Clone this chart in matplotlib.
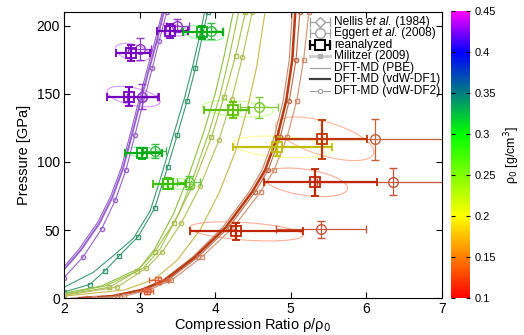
import numpy as np
import matplotlib.pyplot as plt
from matplotlib.colors import LinearSegmentedColormap, Normalize, to_rgb
from matplotlib.cm import ScalarMappable

plt.rcParams['font.family'] = ['Liberation Sans', 'DejaVu Sans']

# --- Hugoniot curves (compression ratio, pressure in GPa) ---
# rho0 ~ 0.43 g/cc
pur_pbe_x = [2.00, 2.20, 2.45, 2.62, 2.76, 2.88, 3.00, 3.11, 3.21, 3.30]
pur_pbe_p = [23, 36, 56, 75, 96, 121, 147, 170, 190, 210]
pur_df1_x = [2.00, 2.22, 2.47, 2.64, 2.78, 2.90, 3.02, 3.13, 3.23, 3.32]
pur_df1_p = [21, 35, 55, 74, 95, 120, 146, 169, 189, 210]
pur_df2_x = [2.00, 2.25, 2.50, 2.68, 2.82, 2.94, 3.06, 3.17, 3.26, 3.36]
pur_df2_p = [15, 30, 51, 72, 94, 120, 146, 169, 189, 210]

# rho0 ~ 0.33 g/cc
teal_pbe_x = [2.00, 2.39, 2.65, 2.92, 3.14, 3.30, 3.46, 3.60, 3.71, 3.81, 3.86]
teal_pbe_p = [8, 19, 31, 44, 64, 92, 122, 148, 172, 196, 210]
teal_df2_x = [2.00, 2.34, 2.54, 2.73, 2.98, 3.20, 3.37, 3.50, 3.63, 3.74, 3.83, 3.90]
teal_df2_p = [4.5, 10, 20, 31, 45, 66, 96, 120, 145, 169, 192, 210]

# rho0 ~ 0.2 - 0.26 g/cc
yg1_x = [2.00, 2.50, 3.00, 3.20, 3.45, 3.65, 3.85, 4.00, 4.12, 4.24]
yg1_p = [3.6, 9, 22, 36, 62, 90, 122, 150, 178, 210]
yg2_x = [2.00, 2.55, 3.05, 3.27, 3.52, 3.72, 3.92, 4.07, 4.19, 4.31]
yg2_p = [3, 9, 22, 36, 62, 90, 122, 150, 178, 210]
yg3_x = [2.00, 2.60, 2.97, 3.20, 3.45, 3.70, 3.95, 4.12, 4.27, 4.40]
yg3_p = [2.5, 8, 20, 34, 55, 82, 118, 148, 178, 210]
yg4_x = [2.00, 2.70, 3.09, 3.30, 3.55, 3.80, 4.05, 4.22, 4.36, 4.49]
yg4_p = [2, 8, 22, 34, 55, 82, 116, 146, 177, 210]
yg5_x = [2.00, 2.80, 3.20, 3.50, 3.80, 4.05, 4.27, 4.42, 4.55, 4.66]
yg5_p = [1.5, 6, 14, 28, 50, 77, 108, 138, 170, 210]

# rho0 ~ 0.12 g/cc
br_pbe_x = [2.10, 2.60, 3.00, 3.30, 3.70, 4.10, 4.45, 4.62, 4.78, 4.90, 4.98, 5.02]
br_pbe_p = [0, 1.5, 6, 13, 30, 52, 78, 94, 118, 145, 175, 210]
br_df1_x = [2.20, 2.65, 3.03, 3.33, 3.73, 4.14, 4.49, 4.66, 4.82, 4.94, 5.02, 5.06]
br_df1_p = [0, 1.5, 6, 13, 30, 52, 78, 94, 118, 145, 175, 210]
br_df2_x = [2.30, 2.70, 3.07, 3.37, 3.77, 4.18, 4.53, 4.70, 4.86, 4.98, 5.07, 5.12]
br_df2_p = [0, 1.5, 6, 13, 30, 52, 78, 94, 118, 145, 175, 210]
br_mil_x = [2.40, 2.80, 3.12, 3.42, 3.82, 4.24, 4.60, 4.78, 4.95, 5.08, 5.17, 5.24]
br_mil_p = [0, 1.5, 6, 13, 30, 52, 78, 94, 118, 145, 175, 210]

# --- reanalyzed shock data ---
re_x = [2.86, 2.885, 3.40, 3.03, 3.82, 4.24, 3.38, 4.82, 5.41, 5.32, 4.27]
re_p = [148, 180, 196, 106.5, 195, 138, 84, 111, 116.5, 85, 49]
re_xlo = [0.29, 0.20, 0.17, 0.22, 0.24, 0.39, 0.20, 0.59, 0.60, 0.68, 0.60]
re_xhi = [0.40, 0.25, 0.24, 0.27, 0.29, 0.21, 0.24, 0.73, 0.60, 0.82, 0.89]
re_perr = [7, 6, 5, 4, 5, 6, 4, 7, 14, 10, 6]
re_rho = [0.43, 0.43, 0.43, 0.31, 0.31, 0.25, 0.27, 0.20, 0.13, 0.12, 0.12]

# low-pressure points
lo_x = [3.25, 3.10]
lo_p = [13, 5]
lo_xerr = [0.12, 0.08]
lo_perr = [2.5, 2]

# --- Nellis / Eggert data ---
ne_x = [3.03, 3.00, 3.50, 3.20, 3.95, 4.58, 3.65, 6.12, 6.35, 5.40]
ne_p = [148, 183, 200, 108, 196, 140, 85, 116.5, 85.5, 50.5]
ne_xerr = [0.20, 0.15, 0.15, 0.15, 0.15, 0.25, 0.15, 1.30, 1.00, 0.60]
ne_perr = [9, 8, 5, 5, 6, 8, 5, 15, 10, 6]
ne_rho = [0.43, 0.43, 0.43, 0.31, 0.31, 0.25, 0.27, 0.13, 0.12, 0.12]

# --- uncertainty ellipses ---
el_x = [2.92, 2.91, 3.45, 3.06, 3.84, 4.30, 4.89, 5.45, 5.19, 4.41, 3.52]
el_p = [148, 180.5, 197, 107, 194.5, 139, 111, 117, 85, 49, 84]
el_a = [0.35, 0.23, 0.19, 0.25, 0.27, 0.47, 0.66, 0.65, 0.56, 0.75, 0.22]
el_b = [7.5, 6.5, 4.5, 4, 5.5, 6, 8, 16, 10.5, 7, 4]
el_c = [-0.5, -0.4, -0.4, -0.3, -0.4, -0.3, -0.3, -0.6, -0.4, -0.4, -0.3]
el_rho = [0.43, 0.43, 0.43, 0.31, 0.31, 0.25, 0.20, 0.13, 0.12, 0.12, 0.27]

rho_ticks = [0.1, 0.15, 0.2, 0.25, 0.3, 0.35, 0.4, 0.45]

# legend text: (plain, italic, plain) pieces
leg_labels = [('Nellis ', 'et al.', ' (1984)'),
              ('Eggert ', 'et al.', ' (2008)'),
              ('reanalyzed', '', ''),
              ('Militzer (2009)', '', ''),
              ('DFT-MD (PBE)', '', ''),
              ('DFT-MD (vdW-DF1)', '', ''),
              ('DFT-MD (vdW-DF2)', '', '')]

cmap = LinearSegmentedColormap.from_list(
    'rho0', [(0, 'red'), (0.2857, 'yellow'), (0.5714, 'lime'),
             (0.8571, 'blue'), (1, 'magenta')])
norm = Normalize(0.1, 0.45)


def mix(c, other, f):
    c = np.array(to_rgb(c))
    return tuple(c * (1 - f) + np.array(to_rgb(other)) * f)


fig = plt.figure(figsize=(5.24, 3.35), dpi=100)
ax = fig.add_axes([0.122, 0.110, 0.7215, 0.854])
cax = fig.add_axes([0.861, 0.110, 0.036, 0.857])

# ellipses
t = np.linspace(0, 2 * np.pi, 120)
for cx, cy, a, b, c, r in zip(el_x, el_p, el_a, el_b, el_c, el_rho):
    ex = cx + a * np.cos(t)
    ey = cy + b * (c * np.cos(t) + np.sqrt(1 - c * c) * np.sin(t))
    ax.plot(ex, ey, color=mix(cmap(norm(r)), 'white', 0.6), lw=0.8, zorder=1)

# curves
purple = '#9a62cc'
teal = '#3f9a72'
ax.plot(pur_pbe_x, pur_pbe_p, color=purple, lw=0.8, zorder=2)
ax.plot(pur_df1_x, pur_df1_p, color=purple, lw=1.4, zorder=2)
ax.plot(pur_df2_x, pur_df2_p, color=purple, lw=0.8, marker='o', ms=3, mfc='none', zorder=2)
ax.plot(teal_pbe_x, teal_pbe_p, color=teal, lw=0.8, zorder=2)
ax.plot(teal_df2_x, teal_df2_p, color=teal, lw=0.8, marker='s', ms=2.5, mfc='none', zorder=2)
ax.plot(yg1_x, yg1_p, color='#8cbf44', lw=0.8, zorder=2)
ax.plot(yg2_x, yg2_p, color='#9cc44c', lw=0.8, zorder=2)
ax.plot(yg3_x, yg3_p, color='#a8c050', lw=0.8, marker='s', ms=2.5, mfc='none', zorder=2)
ax.plot(yg4_x, yg4_p, color='#b4c060', lw=0.8, marker='o', ms=3, mfc='none', zorder=2)
ax.plot(yg5_x, yg5_p, color='#c8b850', lw=0.8, zorder=2)
ax.plot(br_pbe_x, br_pbe_p, color='#c8866a', lw=0.8, zorder=2)
ax.plot(br_df1_x, br_df1_p, color='#b83a10', lw=1.8, zorder=2)
ax.plot(br_df2_x, br_df2_p, color='#c06a4a', lw=0.8, marker='o', ms=3, mfc='none', zorder=2)
ax.plot(br_mil_x, br_mil_p, color='#d09070', lw=0.8, marker='s', ms=2.5, mfc='none', zorder=2)

# Nellis / Eggert points
for x, p, xe, pe, r in zip(ne_x, ne_p, ne_xerr, ne_perr, ne_rho):
    col = mix(cmap(norm(r)), '#808080', 0.45)
    ax.errorbar(x, p, xerr=xe, yerr=pe, fmt='o', ms=7, mfc='none', mec=col,
                color=col, lw=0.9, capsize=3, zorder=3)

# reanalyzed points
for x, p, xl, xh, pe, r in zip(re_x, re_p, re_xlo, re_xhi, re_perr, re_rho):
    col = mix(cmap(norm(r)), 'black', 0.25)
    ax.errorbar(x, p, xerr=[[xl], [xh]], yerr=pe, fmt='s', ms=7, mfc='none', mec=col,
                mew=1.3, color=col, lw=1.6, capsize=3, capthick=1.3, zorder=4)
ax.errorbar(lo_x, lo_p, xerr=lo_xerr, yerr=lo_perr, fmt='s', ms=4, mfc='none',
            color='#e0603a', lw=1.0, capsize=2, zorder=4)

# key, drawn by hand in axes coordinates (gnuplot-like compact rows)
gray = '#a0a0a0'
key_styles = [
    dict(color=gray, lw=0.9, cap=True, marker='D', ms=5.5, mew=1.0),
    dict(color=gray, lw=0.9, cap=True, marker='o', ms=7, mew=1.0),
    dict(color='black', lw=1.6, cap=True, marker='s', ms=7, mew=1.4),
    dict(color='#d0d0d0', lw=2.2, cap=False, marker='s', ms=2.5, mew=1.0),
    dict(color=gray, lw=0.8, cap=False, marker=None, ms=0, mew=1.0),
    dict(color='#404040', lw=1.6, cap=False, marker=None, ms=0, mew=1.0),
    dict(color=gray, lw=0.8, cap=False, marker='o', ms=3, mew=0.8),
]
hx0, hx1, tx = 0.650, 0.704, 0.714
ky0, kdy = 0.965, 0.0399
for i, (st, pieces) in enumerate(zip(key_styles, leg_labels)):
    ky = ky0 - i * kdy
    kw = dict(transform=ax.transAxes, clip_on=False, zorder=7)
    ax.plot([hx0, hx1], [ky, ky], color=st['color'], lw=st['lw'],
            marker='|' if st['cap'] else None, ms=7, mew=st['lw'], **kw)
    if st['marker']:
        mfc = '#b0b0b0' if st['marker'] == 's' and not st['cap'] else 'white'
        mec = '#b0b0b0' if st['marker'] == 's' and not st['cap'] else st['color']
        ax.plot([(hx0 + hx1) / 2], [ky], marker=st['marker'], ms=st['ms'],
                mfc=mfc, mec=mec, mew=st['mew'], lw=0, **kw)
    prev = ax.text(tx, ky, pieces[0], transform=ax.transAxes, fontsize=8.6,
                   va='center', ha='left', zorder=7)
    for j, piece in enumerate(pieces[1:]):
        if piece:
            prev = ax.annotate(piece, xy=(1, 0), xycoords=prev, va='bottom',
                               ha='left', fontsize=8.6, zorder=7,
                               style='italic' if j == 0 else 'normal')

ax.set_xlim(2, 7)
ax.set_ylim(0, 210)
ax.set_xticks([2, 3, 4, 5, 6, 7])
ax.set_yticks([0, 50, 100, 150, 200])
ax.tick_params(direction='in', top=True, right=True, labelsize=10, length=4, pad=3)
ax.set_xlabel('Compression Ratio ρ/ρ$_0$', fontsize=10.5, labelpad=0)
ax.set_ylabel('Pressure [GPa]', fontsize=10.5, labelpad=4)

cb = fig.colorbar(ScalarMappable(norm=norm, cmap=cmap), cax=cax, ticks=rho_ticks)
cb.ax.set_yticklabels([f'{v:g}' for v in rho_ticks])
cb.ax.tick_params(labelsize=8, direction='in', length=3, left=True)
cb.outline.set_visible(False)
cb.set_label('ρ$_0$ [g/cm$^3$]', fontsize=9, labelpad=4)

fig.savefig('out.png', dpi=100)
